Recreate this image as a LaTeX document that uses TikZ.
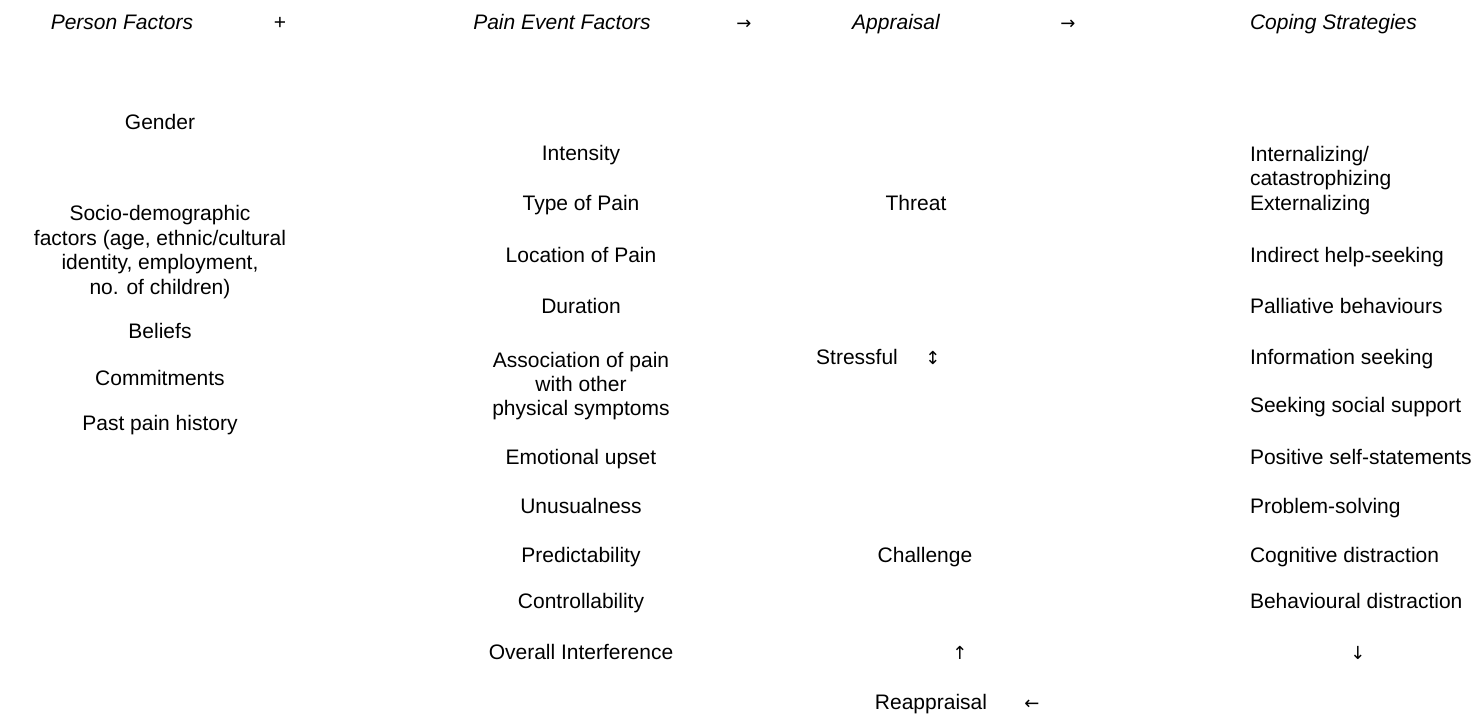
\documentclass[tikz,border=0pt]{standalone}
\usepackage{fontspec}
\setmainfont{Liberation Sans}
\newfontfamily\arrowfont{DejaVu Sans}
\begin{document}
\begin{tikzpicture}[x=1pt,y=-1pt,
  lbl/.style={inner sep=0pt,outer sep=0pt,font=\fontsize{21}{24.4}\selectfont,anchor=mid},
  hdr/.style={lbl,font=\fontsize{21}{24.4}\selectfont\itshape},
  blk/.style={inner sep=0pt,outer sep=0pt,font=\fontsize{21}{24.4}\selectfont,align=center,anchor=center},
  lft/.style={lbl,anchor=mid west},
  arr/.style={lbl,font=\arrowfont\fontsize{18}{20}\selectfont}]
\useasboundingbox (0,0) rectangle (1483,715);
\begin{scope}[yshift=-2pt]
% headers
\node[hdr] (hPerson) at (122,25) {Person Factors};
\node[lbl] (plus) at (280,25) {+};
\node[hdr] (hPain) at (562,25) {Pain Event Factors};
\node[arr] (a1) at (744,25) {→};
\node[hdr] (hApp) at (896,25) {Appraisal};
\node[arr] (a2) at (1068,25) {→};
\node[hdr,anchor=mid west] (hCope) at (1250,25) {Coping Strategies};
% column 1
\node[lbl] (gender) at (160,125) {Gender};
\node[blk] (socio) at (160,250) {Socio-demographic\\factors (age, ethnic/cultural\\identity, employment,\\no. of children)};
\node[lbl] (beliefs) at (160,334) {Beliefs};
\node[lbl] (commit) at (160,381) {Commitments};
\node[lbl] (past) at (160,426) {Past pain history};
% column 2
\node[lbl] (intens) at (581,156) {Intensity};
\node[lbl] (type) at (581,206) {Type of Pain};
\node[lbl] (loc) at (581,258) {Location of Pain};
\node[lbl] (dur) at (581,309) {Duration};
\node[blk] (assoc) at (581,384) {Association of pain\\with other\\physical symptoms};
\node[lbl] (emo) at (581,460) {Emotional upset};
\node[lbl] (unus) at (581,509) {Unusualness};
\node[lbl] (pred) at (581,558) {Predictability};
\node[lbl] (ctrl) at (581,604) {Controllability};
\node[lbl] (over) at (581,655) {Overall Interference};
% column 3
\node[lbl] (threat) at (916,206) {Threat};
\node[lbl] (stress) at (857,360) {Stressful};
\node[arr] (a3) at (933,360) {↕};
\node[lbl] (chall) at (925,558) {Challenge};
\node[arr] (a4) at (960,655) {↑};
\node[lbl] (reapp) at (931,705) {Reappraisal};
\node[arr] (a5) at (1032,705) {←};
% column 4
\node[inner sep=0pt,outer sep=0pt,font=\fontsize{21}{24.4}\selectfont,align=left,anchor=west] (intern) at (1250,166) {Internalizing/\\catastrophizing};
\node[lft] (ext) at (1250,206) {Externalizing};
\node[lft] (ind) at (1250,258) {Indirect help-seeking};
\node[lft] (pall) at (1250,309) {Palliative behaviours};
\node[lft] (info) at (1250,360) {Information seeking};
\node[lft] (soc) at (1250,408) {Seeking social support};
\node[lft] (pos) at (1250,460) {Positive self-statements};
\node[lft] (prob) at (1250,509) {Problem-solving};
\node[lft] (cog) at (1250,558) {Cognitive distraction};
\node[lft] (beh) at (1250,604) {Behavioural distraction};
\node[arr] (a6) at (1358,655) {↓};
\end{scope}
\end{tikzpicture}
\end{document}
